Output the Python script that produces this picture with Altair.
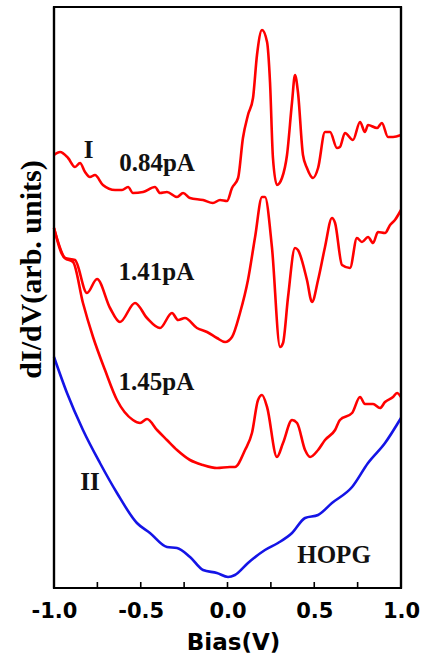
import altair as alt
import pandas as pd

# Curve I (0.84 pA)
bias_I = [-1.0, -0.965, -0.919, -0.879, -0.85, -0.821, -0.793, -0.764, -0.718, -0.648, -0.608, -0.573,
          -0.545, -0.487, -0.418, -0.389, -0.349, -0.291, -0.256, -0.216, -0.141, -0.084, -0.043, -0.003,
          0.026, 0.061, 0.089, 0.118, 0.147, 0.17, 0.199, 0.228, 0.245, 0.262, 0.285, 0.314, 0.343, 0.372,
          0.389, 0.406, 0.435, 0.458, 0.493, 0.522, 0.562, 0.591, 0.631, 0.648, 0.677, 0.723, 0.764, 0.792,
          0.81, 0.862, 0.89, 0.925, 0.954, 1.0]
didv_I = [4.33, 4.36, 4.30, 4.21, 4.25, 4.16, 4.11, 4.13, 4.03, 3.98, 3.98, 4.01,
          3.95, 3.96, 4.01, 3.95, 3.96, 3.91, 3.95, 3.90, 3.88, 3.85, 3.88, 3.87,
          4.00, 4.10, 4.50, 4.73, 4.90, 5.33, 5.58, 5.46, 5.06, 4.30, 4.03, 4.10, 4.33, 4.86,
          5.13, 4.96, 4.33, 4.20, 4.10, 4.20, 4.56, 4.56, 4.40, 4.41, 4.55, 4.48, 4.66, 4.56,
          4.63, 4.60, 4.65, 4.51, 4.51, 4.53]

# Curve 1.41 pA
bias_141 = [-1.0, -0.937, -0.879, -0.81, -0.752, -0.677, -0.62, -0.533, -0.464, -0.389, -0.32, -0.285,
            -0.245, -0.176, -0.118, -0.061, -0.014, 0.026, 0.072, 0.118, 0.159, 0.199, 0.216, 0.256,
            0.303, 0.32, 0.349, 0.389, 0.406, 0.458, 0.487, 0.522, 0.562, 0.602, 0.62, 0.66, 0.706,
            0.746, 0.775, 0.81, 0.839, 0.867, 0.908, 0.937, 0.965, 1.0]
didv_141 = [3.60, 3.30, 3.28, 2.95, 3.09, 2.80, 2.66, 2.85, 2.70, 2.60, 2.75, 2.68,
            2.70, 2.60, 2.56, 2.50, 2.46, 2.51, 2.75, 3.08, 3.51, 3.91, 3.91, 3.41,
            2.41, 2.45, 2.91, 3.40, 3.38, 3.08, 2.86, 3.08, 3.41, 3.70, 3.65, 3.23, 3.20,
            3.50, 3.46, 3.51, 3.45, 3.56, 3.55, 3.63, 3.68, 3.78]

# Curve 1.45 pA
bias_145 = [-1.0, -0.937, -0.89, -0.833, -0.775, -0.706, -0.637, -0.545, -0.504, -0.464, -0.406, -0.349,
            -0.291, -0.216, -0.141, -0.061, 0.014, 0.043, 0.101, 0.141, 0.176, 0.199, 0.228, 0.285,
            0.32, 0.372, 0.401, 0.447, 0.476, 0.522, 0.562, 0.62, 0.648, 0.718, 0.764, 0.792, 0.839,
            0.879, 0.908, 0.954, 0.977, 1.0]
didv_145 = [3.60, 3.30, 3.26, 2.85, 2.51, 2.18, 1.88, 1.68, 1.65, 1.69, 1.58, 1.48,
            1.38, 1.28, 1.23, 1.20, 1.21, 1.21, 1.38, 1.55, 1.88, 1.93, 1.81, 1.31,
            1.45, 1.68, 1.65, 1.38, 1.31, 1.38, 1.48, 1.58, 1.68, 1.75, 1.91, 1.84, 1.84,
            1.80, 1.86, 1.91, 1.95, 1.91]

# Curve II (HOPG)
bias_II = [-1.0, -0.925, -0.833, -0.735, -0.637, -0.522, -0.447, -0.349, -0.291, -0.216, -0.141, -0.061,
           0.003, 0.043, 0.118, 0.216, 0.291, 0.372, 0.447, 0.522, 0.602, 0.718, 0.81, 0.908, 1.0]
didv_II = [2.31, 1.95, 1.58, 1.25, 0.95, 0.65, 0.55, 0.41, 0.40, 0.31, 0.18, 0.15,
           0.11, 0.13, 0.25, 0.38, 0.45, 0.55, 0.70, 0.73, 0.85, 1.01, 1.25, 1.45, 1.70]

label_text = ["I", "0.84pA", "1.41pA", "1.45pA", "II", "HOPG"]
label_bias = [-0.80, -0.406, -0.41, -0.41, -0.793, 0.614]
label_didv = [4.38, 4.25, 3.16, 2.06, 1.06, 0.33]

x_domain = [-1.0, 1.0]
y_domain = [0.0, 5.81]
minor_ticks = [-0.75, -0.5, -0.25, 0.0, 0.25, 0.5, 0.75]
tick_len = 0.06

kind_names = ["tip", "HOPG", "frame"]
kind_colors = ["#ff0000", "#1414e6", "#000000"]

rows = []
for name, kind, xs, ys in [("0.84pA", "tip", bias_I, didv_I), ("1.41pA", "tip", bias_141, didv_141),
                           ("1.45pA", "tip", bias_145, didv_145), ("HOPG", "HOPG", bias_II, didv_II)]:
    for i, (xv, yv) in enumerate(zip(xs, ys)):
        rows.append({"curve": name, "kind": kind, "bias": xv, "didv": yv, "order": i, "w": 2.6})

# plot frame: four sides, each a two-point segment along the domain edges
x0, x1 = x_domain
y0, y1 = y_domain
sides = [((x0, y0), (x0, y1)), ((x0, y1), (x1, y1)), ((x1, y1), (x1, y0)), ((x1, y0), (x0, y0))]
for k, (p, q) in enumerate(sides):
    for i, (xv, yv) in enumerate([p, q]):
        rows.append({"curve": f"side{k}", "kind": "frame", "bias": xv, "didv": yv, "order": i, "w": 2.2})
# inward minor ticks on the bottom axis
for k, t in enumerate(minor_ticks):
    for i, yv in enumerate([y0, y0 + tick_len]):
        rows.append({"curve": f"tick{k}", "kind": "frame", "bias": t, "didv": yv, "order": i, "w": 1.6})

df = pd.DataFrame(rows)
labels_df = pd.DataFrame({"label": label_text, "bias": label_bias, "didv": label_didv})

xscale = alt.Scale(domain=x_domain, nice=False, zero=False)
yscale = alt.Scale(domain=y_domain, nice=False, zero=False)

x_axis = alt.Axis(
    values=[-1.0, -0.5, 0.0, 0.5, 1.0],
    labelExpr="datum.value < 0 ? '-' + format(abs(datum.value), '.1f') : format(datum.value, '.1f')",
    labelFont="DejaVu Sans", labelFontWeight="bold", labelFontSize=21, labelColor="black",
    labelFlush=False, labelPadding=12, ticks=False, grid=False, domain=False,
    title="Bias(V)", titleFont="DejaVu Sans", titleFontWeight="bold", titleFontSize=23,
    titleColor="black", titleX=179, titleY=61, titleBaseline="alphabetic", titleAlign="center",
)
y_axis = alt.Axis(
    labels=False, ticks=False, grid=False, domain=False,
    title="dI/dV(arb. units)", titleFont="Liberation Serif", titleFontWeight="bold",
    titleFontSize=30, titleColor="black", titleAngle=270, titleX=-23, titleY=262,
    titleAlign="center", titleBaseline="middle",
)

lines = alt.Chart(df).mark_line(interpolate="monotone").encode(
    x=alt.X("bias:Q", scale=xscale, axis=x_axis),
    y=alt.Y("didv:Q", scale=yscale, axis=y_axis),
    color=alt.Color("kind:N", scale=alt.Scale(domain=kind_names, range=kind_colors), legend=None),
    strokeWidth=alt.StrokeWidth("w:Q", scale=None, legend=None),
    detail="curve:N",
    order="order:Q",
)

texts = alt.Chart(labels_df).mark_text(
    font="Liberation Serif", fontWeight="bold", fontSize=25, color="#111111",
    align="center", baseline="middle",
).encode(
    x=alt.X("bias:Q", scale=xscale),
    y=alt.Y("didv:Q", scale=yscale),
    text="label:N",
)

chart = alt.layer(lines, texts).properties(
    width=347, height=581,
    background="white",
    autosize=alt.AutoSizeParams(type="none"),
    padding={"left": 54, "top": 7, "right": 21, "bottom": 71},
).configure_view(stroke="#000000", strokeWidth=2.2)

chart.save("out.html", embed_options={"renderer": "svg", "actions": False})
